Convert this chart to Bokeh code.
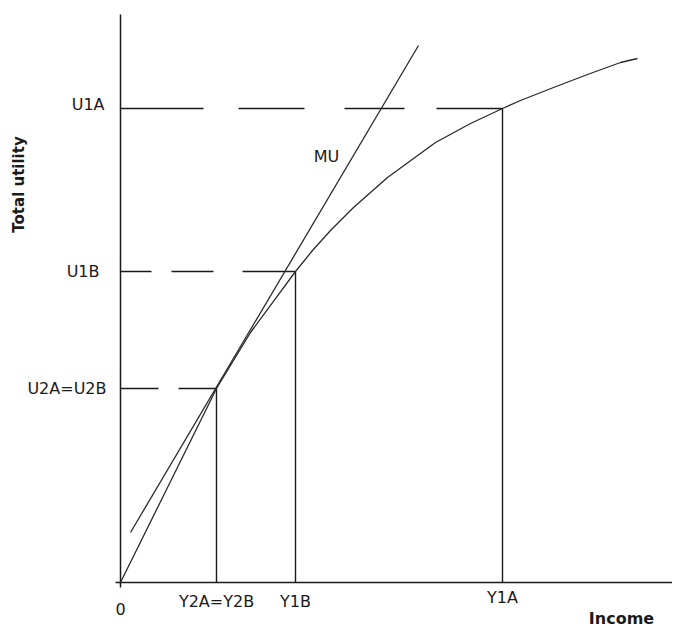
from bokeh.plotting import figure
from bokeh.models import Range1d
from bokeh.core.properties import value
from bokeh.embed import file_html
from bokeh.resources import INLINE
import math

# ---- data (arbitrary income / utility units, origin at 0) ----
tu_income = [0, 48, 96, 130, 175, 192, 210, 233, 267, 315, 350, 382, 400, 433, 467, 500, 517]
tu_utility = [0, 97, 194, 250, 311, 332, 352, 375, 405, 440, 459, 474, 482, 495, 508, 520, 524]

mu_income = [10, 298]
mu_utility = [50, 537]

income_values = [0, 96, 175, 382]
income_labels = ["0", "Y2A=Y2B", "Y1B", "Y1A"]

utility_values = [194, 311, 474]
utility_labels = ["U2A=U2B", "U1B", "U1A"]
# income at which each utility level is reached
utility_income = [96, 175, 382]

axis_max = 568

# ---- figure ----
p = figure(width=672, height=628, output_backend="svg", toolbar_location=None,
           x_range=Range1d(-120, 552), y_range=Range1d(-46, 582),
           x_axis_location=None, y_axis_location=None, min_border=0,
           outline_line_color=None, background_fill_color="white")
p.grid.visible = False

ink = "#1a1a1a"

# axes drawn as lines
p.line([0, 0], [-5, axis_max], line_color=ink, line_width=1.5)
p.line([-5, axis_max + 20], [0, 0], line_color=ink, line_width=1.5)

# dashed horizontal guides and vertical drop lines
dashes = ["38 20 38", "31 20 42 29 53", "83 35 66 40 60 32 67"]
for u, yv, dash in zip(utility_values, utility_income, dashes):
    p.line([0, yv], [u, u], line_color=ink, line_width=1.4, line_dash=dash)
    p.line([yv, yv], [0, u], line_color=ink, line_width=1.4)

# total utility curve and MU line
p.line(tu_income, tu_utility, line_color="#2a2a2a", line_width=1.3)
p.line(mu_income, mu_utility, line_color="#2a2a2a", line_width=1.3)

font = value("DejaVu Sans")

# income labels
drops = [26, 19, 19, 15]
p.text(x=income_values, y=[-d for d in drops], text=income_labels,
       text_font=font, text_font_size="16px", text_color=ink,
       text_align="center", text_baseline="middle")

# utility labels
ulab_x = [-14, -21, -16]
ulab_y = [utility_values[0], utility_values[1], utility_values[2] + 4]
p.text(x=ulab_x, y=ulab_y, text=utility_labels,
       text_font=font, text_font_size="16px", text_color=ink,
       text_align="right", text_baseline="middle")

# MU label
p.text(x=[206], y=[426], text=["MU"], text_font=font, text_font_size="16px",
       text_color=ink, text_align="center", text_baseline="middle")

# axis titles
p.text(x=[501], y=[-36], text=["Income"], text_font=font, text_font_size="16px",
       text_font_style="bold", text_color=ink, text_align="center", text_baseline="middle")
p.text(x=[-102], y=[398], text=["Total utility"], text_font=font, text_font_size="15px",
       text_font_style="bold", text_color=ink, text_align="center", text_baseline="middle",
       angle=math.pi / 2)

open("out.html", "w").write(file_html(p, INLINE))
